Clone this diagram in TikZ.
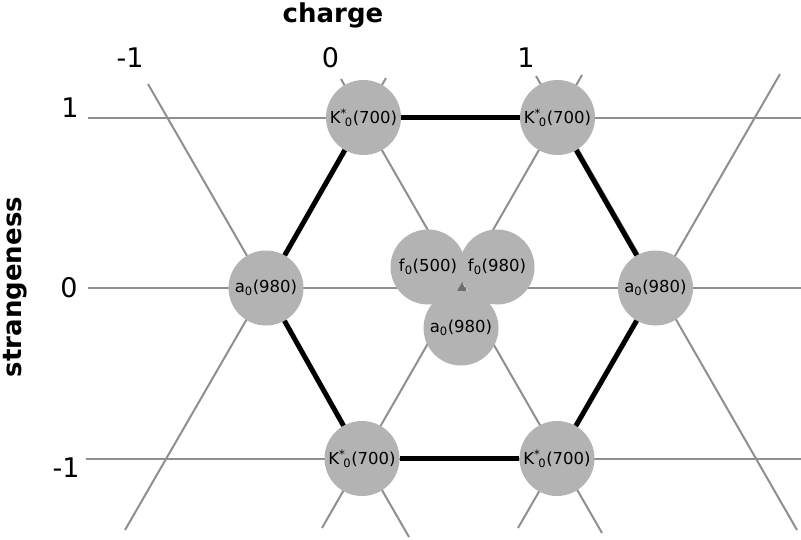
\documentclass[tikz,border=0pt]{standalone}
\usepackage{fontspec}
\setmainfont{DejaVu Sans}
\usetikzlibrary{shapes.geometric}
\definecolor{grid}{HTML}{8F8F8F}
\definecolor{ball}{HTML}{B3B3B3}
\definecolor{tri}{HTML}{6E6E6E}
\tikzset{
  gridline/.style={draw=grid, line width=2pt},
  edge/.style={draw=black, line width=5pt},
  meson/.style={circle, fill=ball, minimum size=75pt, inner sep=0pt, font=\fontsize{16.5}{19}\selectfont},
  axisnum/.style={font=\fontsize{27}{30}\selectfont, inner sep=0pt},
  axislabel/.style={font=\bfseries\fontsize{26}{30}\selectfont, inner sep=0pt}
}
\newcommand{\Kst}{K\textsuperscript{*}\kern-0.12em\textsubscript{0}(700)}
\begin{document}
\begin{tikzpicture}[x=1pt,y=-1pt]
\path[use as bounding box] (0,0) rectangle (801,539);
% lattice end points
\coordinate (h1a) at (88,117.5);  \coordinate (h1b) at (801,117.5);
\coordinate (h2a) at (88,288);    \coordinate (h2b) at (801,288);
\coordinate (h3a) at (86,458.5);  \coordinate (h3b) at (801,458.5);
\coordinate (cma) at (148,84);    \coordinate (cmb) at (409,537);
\coordinate (c0a) at (341,79);    \coordinate (c0b) at (602,533);
\coordinate (cpa) at (536,76);    \coordinate (cpb) at (797,530);
\coordinate (uma) at (125,530);   \coordinate (umb) at (386,78);
\coordinate (u0a) at (322,528);   \coordinate (u0b) at (582,75);
\coordinate (upa) at (518,528);   \coordinate (upb) at (780,74);
\foreach \a/\b in {h1a/h1b,h2a/h2b,h3a/h3b,cma/cmb,c0a/c0b,cpa/cpb,uma/umb,u0a/u0b,upa/upb}
  \draw[gridline] (\a) -- (\b);
% mesons
\node[meson] (Ktl) at (363.5,117.5) {\Kst};
\node[meson] (Ktr) at (557.5,117.5) {\Kst};
\node[meson] (al)  at (266,288) {a\textsubscript{0}(980)};
\node[meson] (ar)  at (655.5,288) {a\textsubscript{0}(980)};
\node[meson] (Kbl) at (362,458.5) {\Kst};
\node[meson] (Kbr) at (557,458.5) {\Kst};
\node[meson] (f5)  at (428,267) {f\textsubscript{0}(500)};
\node[meson] (f9)  at (497,267) {f\textsubscript{0}(980)};
\node[meson] (ac)  at (461,328) {a\textsubscript{0}(980)};
\node[regular polygon, regular polygon sides=3, fill=tri, minimum size=11pt, inner sep=0pt] (tr) at (462,288) {};
% hexagon edges
\draw[edge] (Ktl) -- (Ktr);
\draw[edge] (Ktr) -- (ar);
\draw[edge] (ar) -- (Kbr);
\draw[edge] (Kbr) -- (Kbl);
\draw[edge] (Kbl) -- (al);
\draw[edge] (al) -- (Ktl);
% axes
\node[axislabel] (charge) at (333,15) {charge};
\node[axislabel, rotate=90] (strange) at (15,287) {strangeness};
\node[axisnum] (qm) at (130,58) {-1};
\node[axisnum] (q0) at (330.5,58) {0};
\node[axisnum] (qp) at (526,58) {1};
\node[axisnum] (sp) at (70,108) {1};
\node[axisnum] (s0) at (69,288) {0};
\node[axisnum] (sm) at (66,468) {-1};
\end{tikzpicture}
\end{document}
